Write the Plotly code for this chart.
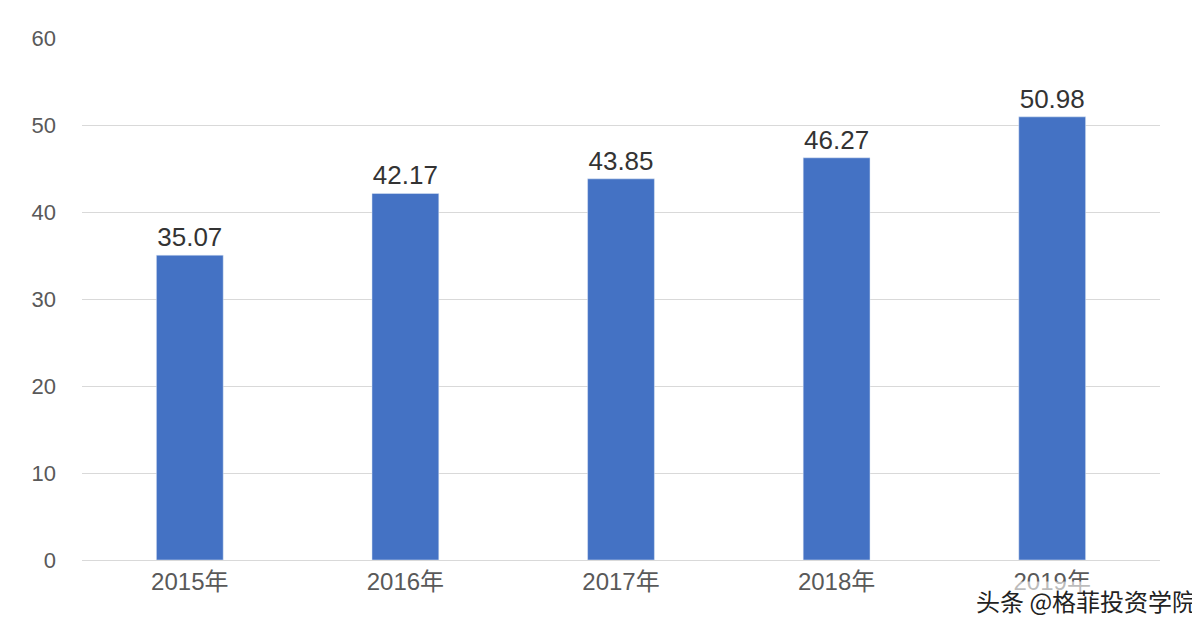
import plotly.graph_objects as go

years = ["2015年", "2016年", "2017年", "2018年", "2019年"]
values = [35.07, 42.17, 43.85, 46.27, 50.98]
y_ticks = [0, 10, 20, 30, 40, 50, 60]

fig = go.Figure(go.Bar(
    x=years, y=values, marker_color="#4472C4",
    text=[f"{v:.2f}" for v in values], textposition="outside",
    textfont=dict(size=26, color="#333333", family="Liberation Sans"),
    cliponaxis=False,
))
fig.update_layout(
    width=1200, height=642, paper_bgcolor="white", plot_bgcolor="white",
    margin=dict(l=74, r=48, t=30, b=90), bargap=0.69, showlegend=False,
    font=dict(family="Liberation Sans, Noto Sans CJK SC", color="#595959", size=22),
)
fig.update_yaxes(range=[0, 60.05], tickvals=y_ticks, showgrid=True, gridcolor="#D9D9D9",
                 gridwidth=1, zeroline=False, ticks="", ticklabelstandoff=25,
                 tickfont=dict(size=22, color="#595959"))
fig.update_xaxes(showline=True, linecolor="#D9D9D9", ticks="",
                 tickfont=dict(size=24, color="#595959", family="Liberation Sans, Noto Sans CJK SC"))
fig.add_annotation(text="头条 @格菲投资学院", xref="paper", yref="paper", x=1.035, y=-0.04,
                   xanchor="right", yanchor="top", showarrow=False,
                   bgcolor="rgba(255,255,255,0.6)",
                   font=dict(size=24, color="#222222", family="Noto Sans CJK SC"))
fig.write_html("out.html")
